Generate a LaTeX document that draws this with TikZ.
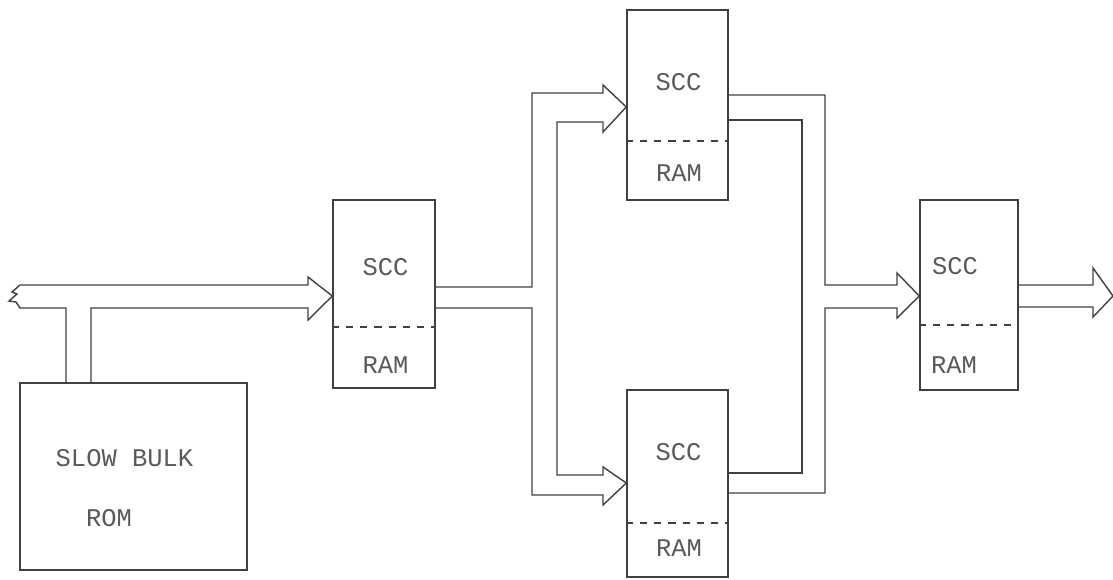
\documentclass[tikz,border=0pt]{standalone}
\usepackage{fontspec}
\newfontfamily\handfont{Liberation Mono}
\begin{document}
\begin{tikzpicture}[
x=0.02cm, y=-0.02cm,
line width=0.8pt,
color=black!75,
box/.style={draw, rectangle, inner sep=0pt},
lbl/.style={inner sep=0pt, text=black!65, font=\handfont\fontsize{14.5}{17}\selectfont},
sep/.style={dash pattern=on 4pt off 4pt}
]
\useasboundingbox (0,0) rectangle (1113,579);

% memory blocks
\node[box, minimum width=4.54cm, minimum height=3.74cm] (rom) at (133.5,476.5) {};
\node[box, minimum width=2.04cm, minimum height=3.76cm] (scca) at (384,294) {};
\node[box, minimum width=2.02cm, minimum height=3.80cm] (sccb) at (677.5,105) {};
\node[box, minimum width=2.02cm, minimum height=3.74cm] (sccc) at (677.5,483.5) {};
\node[box, minimum width=1.96cm, minimum height=3.80cm] (sccd) at (969,295) {};

\draw[sep] (scca.west |- 0,327) -- (scca.east |- 0,327);
\draw[sep] (sccb.west |- 0,141) -- (sccb.east |- 0,141);
\draw[sep] (sccc.west |- 0,523) -- (sccc.east |- 0,523);
\draw[sep] (sccd.west |- 0,325) -- (sccd.east |- 0,325);

\node[lbl] (rom1) at (124.5,458) {SLOW BULK};
\node[lbl] (rom2) at (109,518) {ROM};
\node[lbl] (scca1) at (385.5,267) {SCC};
\node[lbl] (scca2) at (385.5,365) {RAM};
\node[lbl] (sccb1) at (678.5,82) {SCC};
\node[lbl] (sccb2) at (679,173) {RAM};
\node[lbl] (sccc1) at (678.5,452) {SCC};
\node[lbl] (sccc2) at (679,548) {RAM};
\node[lbl] (sccd1) at (955,266) {SCC};
\node[lbl] (sccd2) at (954,365) {RAM};

% input bus with tap to the rom
\draw (66,383) -- (66,308) -- (20,308) -- (16,302) -- (9,301) -- (17,294)
  -- (12,292) -- (20,285) -- (308,285) -- (308,277) -- (scca.west |- 0,296)
  -- (308,320) -- (308,308) -- (91,308) -- (91,383);

% split to the two parallel blocks
\draw (scca.east |- 0,287) -- (532,287) -- (532,93) -- (603,93) -- (603,85)
  -- (sccb.west |- 0,107) -- (603,132) -- (603,122) -- (557,122) -- (557,475)
  -- (603,475) -- (603,467) -- (sccc.west |- 0,483) -- (603,505) -- (603,495)
  -- (532,495) -- (532,308) -- (scca.east |- 0,308);

% merge into the last block
\draw (sccb.east |- 0,95) -- (825,95) -- (825,285) -- (897,285) -- (897,273)
  -- (sccd.west |- 0,296) -- (897,318) -- (897,308) -- (825,308) -- (825,493)
  -- (sccc.east |- 0,493);
\draw (sccb.east |- 0,120) -- (802,120) -- (802,473) -- (sccc.east |- 0,473);

% output
\draw (sccd.east |- 0,285) -- (1093,285) -- (1093,268) -- (1113,296)
  -- (1093,317) -- (1093,307) -- (sccd.east |- 0,307);

\end{tikzpicture}
\end{document}
